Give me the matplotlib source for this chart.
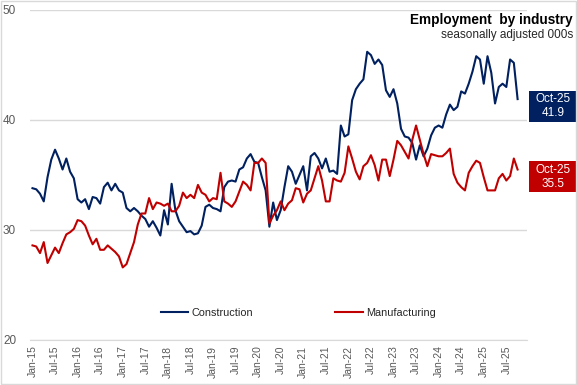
import numpy as np
import pandas as pd
import matplotlib
matplotlib.use("Agg")
import matplotlib.pyplot as plt
from matplotlib.patches import Rectangle
from matplotlib.transforms import blended_transform_factory

# monthly employment, seasonally adjusted, 000s (Jan-15 .. Oct-25)
months = pd.date_range("2015-01-01", "2025-10-01", freq="MS")

construction = [
    33.8, 33.7, 33.3, 32.6, 34.8, 36.4, 37.3, 36.5, 35.5, 36.5, 35.3, 34.7,
    32.8, 32.5, 32.8, 31.9, 33.0, 32.9, 32.4, 33.9, 34.3, 33.6, 34.2, 33.6,
    33.4, 32.0, 31.7, 32.0, 31.7, 31.3, 31.0, 30.3, 30.8, 30.2, 29.5, 31.8,
    30.5, 34.2, 31.8, 30.8, 30.3, 29.8, 29.9, 29.6, 29.7, 30.4, 32.1, 32.3,
    32.0, 31.9, 31.7, 33.9, 34.4, 34.5, 34.4, 35.5, 35.7, 36.5, 36.9, 36.2,
    36.1, 34.8, 33.6, 30.3, 32.5, 30.9, 31.8, 33.9, 35.8, 35.3, 34.2, 35.0,
    35.8, 33.6, 36.7, 37.0, 36.5, 35.6, 36.5, 35.3, 35.4, 35.1, 39.5, 38.5,
    38.7, 41.8, 42.8, 43.3, 43.7, 46.2, 45.9, 45.1, 45.5, 45.0, 42.7, 42.1,
    42.8, 41.5, 39.2, 38.5, 38.4, 37.9, 36.4, 37.7, 36.7, 37.4, 38.6, 39.3,
    39.5, 39.3, 40.5, 41.4, 40.9, 41.2, 42.6, 42.4, 43.3, 44.4, 45.8, 45.5,
    43.3, 45.8, 44.3, 41.5, 43.0, 43.3, 43.0, 45.5, 45.2, 41.9,
]

manufacturing = [
    28.6, 28.5, 27.9, 28.9, 27.0, 27.7, 28.4, 27.9, 28.8, 29.6, 29.8, 30.1,
    30.9, 30.8, 30.4, 29.5, 28.7, 29.2, 28.2, 28.2, 28.6, 28.3, 28.0, 27.6,
    26.6, 26.9, 27.9, 28.9, 30.5, 31.5, 31.5, 32.9, 31.9, 32.5, 32.4, 32.2,
    32.4, 31.7, 31.7, 32.2, 33.4, 32.9, 33.2, 32.9, 34.1, 33.4, 33.2, 32.6,
    32.9, 32.8, 35.2, 32.6, 32.4, 32.1, 32.6, 33.5, 34.4, 34.1, 33.6, 36.1,
    36.1, 36.5, 36.1, 30.6, 31.3, 31.8, 32.6, 31.8, 32.4, 32.7, 33.8, 33.7,
    32.5, 33.3, 33.6, 34.7, 35.8, 34.5, 32.6, 32.6, 34.7, 34.5, 34.4, 35.2,
    37.6, 36.5, 35.3, 34.6, 35.8, 36.1, 36.8, 35.9, 34.5, 36.4, 36.4, 34.9,
    36.4, 38.1, 37.7, 37.1, 36.5, 38.2, 39.5, 38.2, 36.9, 35.8, 36.9, 36.8,
    36.7, 36.7, 37.0, 37.4, 35.1, 34.3, 33.9, 33.6, 35.2, 35.8, 36.3, 36.1,
    34.8, 33.6, 33.6, 33.6, 34.7, 35.1, 34.5, 34.9, 36.5, 35.5,
]

series_names = ["Construction", "Manufacturing"]
series_colors = ["#002060", "#c00000"]
y_ticks = [20, 30, 40, 50]

tick_font = "Liberation Sans"
grey = "#d9d9d9"
text_grey = "#595959"

fig = plt.figure(figsize=(5.77, 3.85), dpi=100)
ax = fig.add_axes([30 / 577, 45 / 385, 497 / 577, 330 / 385])

x = np.arange(len(months))
for vals, name, col in zip([construction, manufacturing], series_names, series_colors):
    ax.plot(x, vals, color=col, lw=1.5, label=name, solid_joinstyle="round")

ax.set_xlim(-0.66, 131.5)
ax.set_ylim(20, 50)
ax.set_yticks(y_ticks)
ax.set_yticklabels([str(t) for t in y_ticks], fontfamily=tick_font, fontsize=8.5, color=text_grey)
tick_pos = x[::6]
ax.set_xticks(tick_pos)
ax.set_xticklabels(months[::6].strftime("%b-%y"), rotation=90, fontfamily=tick_font,
                   fontsize=7.5, color=text_grey, va="top", ha="center")
ax.tick_params(axis="both", length=0)
ax.tick_params(axis="y", pad=10)
ax.tick_params(axis="x", pad=4)
ax.grid(axis="y", color=grey, lw=1)
ax.set_axisbelow(True)
for s in ["top", "left", "right"]:
    ax.spines[s].set_visible(False)
ax.spines["bottom"].set_color(grey)

leg = ax.legend(loc="center", bbox_to_anchor=(0.54, 0.082), ncol=2, frameon=False,
                handlelength=2.5, handletextpad=0.3, columnspacing=7.6,
                prop={"family": tick_font, "size": 7.8})
for t in leg.get_texts():
    t.set_color("#262626")

# title block
fig.text(0.993, 1 - 24 / 385, "Employment  by industry", ha="right", va="baseline",
         fontfamily=tick_font, fontweight="bold", fontsize=9.8, color="black")
fig.text(0.993, 1 - 38 / 385, "seasonally adjusted 000s", ha="right", va="baseline",
         fontfamily=tick_font, fontsize=8.5, color="#262626")

# last-value boxes on the right
trans = blended_transform_factory(ax.transAxes, ax.transData)
last_label = months[-1].strftime("%b-%y")
box_w = 48 / 497
box_h = 31 / 11
for vals, col in zip([construction, manufacturing], series_colors):
    yc = vals[-1] - 0.65
    ax.add_patch(Rectangle((1.0045, yc - box_h / 2), box_w, box_h, transform=trans,
                           facecolor=col, edgecolor="none", clip_on=False))
    ax.text(1.0045 + box_w / 2, yc, f"{last_label}\n{vals[-1]:.1f}", transform=trans,
            ha="center", va="center", color="white", fontfamily=tick_font,
            fontsize=8.5, linespacing=1.2, clip_on=False)

# chart border
fig.patches.append(Rectangle((0.001, 0.002), 0.997, 0.996, transform=fig.transFigure,
                             fill=False, edgecolor=grey, lw=1))

fig.savefig("out.png", dpi=100, facecolor="white")
